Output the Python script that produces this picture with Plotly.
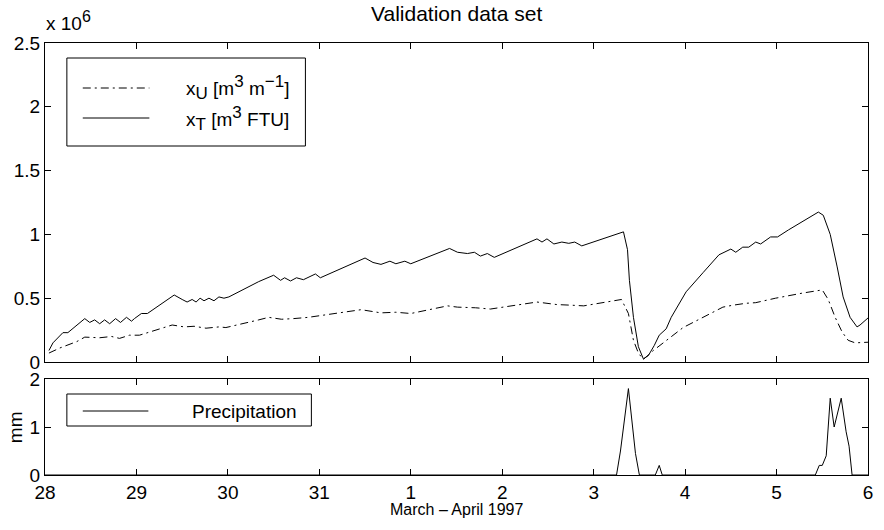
import plotly.graph_objects as go

# ---- data (x = days since 28 March 1997) ----
day_ticks = [0, 1, 2, 3, 4, 5, 6, 7, 8, 9]
day_labels = ["28", "29", "30", "31", "1", "2", "3", "4", "5", "6"]

xT_days = [0.043, 0.087, 0.196, 0.25, 0.435, 0.489, 0.543, 0.598, 0.652, 0.707, 0.772, 0.826,
           0.891, 0.946, 0.978, 1.054, 1.12, 1.413, 1.5, 1.554, 1.609, 1.652, 1.696, 1.739,
           1.793, 1.848, 1.902, 1.957, 2.011, 2.337, 2.5, 2.576, 2.62, 2.685, 2.75, 2.826,
           2.957, 3.011, 3.5, 3.587, 3.674, 3.772, 3.837, 3.935, 4.0, 4.424, 4.511, 4.62,
           4.696, 4.761, 4.837, 4.913, 5.38, 5.435, 5.489, 5.565, 5.652, 5.728, 5.793, 5.87,
           6.326, 6.37, 6.391, 6.435, 6.489, 6.543, 6.598, 6.663, 6.717, 6.793, 6.848, 7.011,
           7.196, 7.37, 7.5, 7.554, 7.63, 7.696, 7.772, 7.826, 7.935, 8.011, 8.13, 8.457,
           8.511, 8.587, 8.663, 8.728, 8.804, 8.88, 8.913, 9.0]
xT_1e6 = [0.09, 0.15, 0.23, 0.23, 0.34, 0.31, 0.33, 0.30, 0.33, 0.30, 0.34, 0.31,
          0.35, 0.32, 0.34, 0.38, 0.38, 0.525, 0.49, 0.47, 0.49, 0.47, 0.50, 0.48,
          0.50, 0.48, 0.51, 0.50, 0.51, 0.63, 0.68, 0.64, 0.66, 0.635, 0.66, 0.645,
          0.69, 0.66, 0.815, 0.78, 0.765, 0.79, 0.77, 0.79, 0.77, 0.89, 0.86, 0.85,
          0.86, 0.83, 0.85, 0.82, 0.965, 0.94, 0.965, 0.925, 0.94, 0.93, 0.94, 0.91,
          1.02, 0.88, 0.64, 0.35, 0.12, 0.025, 0.05, 0.13, 0.21, 0.26, 0.35, 0.55,
          0.70, 0.84, 0.885, 0.86, 0.90, 0.90, 0.94, 0.925, 0.98, 0.98, 1.035, 1.175,
          1.15, 1.0, 0.745, 0.51, 0.35, 0.275, 0.29, 0.345]

xU_days = [0.043, 0.163, 0.348, 0.435, 0.598, 0.728, 0.815, 0.924, 1.033, 1.391, 1.522, 1.63,
           1.761, 1.902, 1.978, 2.174, 2.337, 2.446, 2.587, 2.717, 2.88, 3.457, 3.674, 3.837,
           4.0, 4.402, 4.511, 4.707, 4.87, 5.38, 5.598, 5.761, 5.891, 6.304, 6.38, 6.435,
           6.489, 6.543, 6.652, 6.761, 6.978, 7.196, 7.413, 7.522, 7.663, 7.772, 7.989, 8.283,
           8.5, 8.565, 8.641, 8.717, 8.783, 8.859, 9.0]
xU_1e6 = [0.07, 0.11, 0.16, 0.195, 0.19, 0.20, 0.185, 0.21, 0.21, 0.29, 0.275, 0.28,
          0.265, 0.275, 0.27, 0.30, 0.33, 0.35, 0.335, 0.34, 0.35, 0.41, 0.385, 0.39,
          0.38, 0.44, 0.43, 0.425, 0.415, 0.47, 0.45, 0.445, 0.44, 0.49, 0.38, 0.17,
          0.07, 0.02, 0.09, 0.15, 0.27, 0.35, 0.43, 0.445, 0.46, 0.465, 0.50, 0.54,
          0.565, 0.49, 0.35, 0.235, 0.17, 0.15, 0.155]

rain_days = [0.0, 6.25, 6.293, 6.38, 6.457, 6.5, 6.674, 6.717, 6.75, 8.424, 8.467, 8.5,
             8.543, 8.587, 8.63, 8.707, 8.761, 8.793, 8.826, 9.0]
rain_mm = [0, 0, 0.5, 1.8, 0.45, 0, 0, 0.2, 0, 0, 0.2, 0.2,
           0.4, 1.6, 1.0, 1.6, 0.9, 0.6, 0, 0]

top_yticks = [0, 0.5, 1, 1.5, 2, 2.5]
top_ylabels = ["0", "0.5", "1", "1.5", "2", "2.5"]
bot_yticks = [0, 1, 2]

# ---- styling ----
FONT = "Liberation Sans, Arial, Helvetica, sans-serif"
W, H = 884, 530
ML, MR, MT, MB = 45, 11, 43, 55
PW, PH = W - ML - MR, H - MT - MB
DASHDOT = "8px,4px,2px,4px"


def px(x):
    return (x - ML) / PW


def py(y):
    return (H - MB - y) / PH


def big(s, size=17):
    return '<span style="font-size:%dpx">%s</span>' % (size, s)


fig = go.Figure()
fig.add_trace(go.Scatter(x=xU_days, y=xU_1e6, mode="lines", xaxis="x", yaxis="y",
                         line=dict(color="black", width=1, dash=DASHDOT), showlegend=False))
fig.add_trace(go.Scatter(x=xT_days, y=xT_1e6, mode="lines", xaxis="x", yaxis="y",
                         line=dict(color="black", width=1), showlegend=False))
fig.add_trace(go.Scatter(x=rain_days, y=rain_mm, mode="lines", xaxis="x2", yaxis="y2",
                         line=dict(color="black", width=1), showlegend=False))

axis_common = dict(showline=True, linecolor="black", linewidth=1, mirror="ticks",
                   ticks="inside", ticklen=6, tickwidth=1, tickcolor="black",
                   showgrid=False, zeroline=False,
                   tickfont=dict(family=FONT, size=19, color="black"))

top_dom = [py(362), 1]
bot_dom = [0, py(379)]

fig.update_layout(
    width=W, height=H,
    margin=dict(l=ML, r=MR, t=MT, b=MB),
    paper_bgcolor="white", plot_bgcolor="white",
    font=dict(family=FONT, size=19, color="black"),
    xaxis=dict(axis_common, domain=[0, 1], range=[0, 9], tickvals=day_ticks,
               showticklabels=False, anchor="y"),
    yaxis=dict(axis_common, domain=top_dom, range=[0, 2.5], tickvals=top_yticks,
               ticktext=top_ylabels, anchor="x"),
    xaxis2=dict(axis_common, domain=[0, 1], range=[0, 9], tickvals=day_ticks,
                ticktext=day_labels, anchor="y2"),
    yaxis2=dict(axis_common, domain=bot_dom, range=[0, 2], tickvals=bot_yticks,
                anchor="x2"),
)

shapes = []
annos = []

# title & axis labels
annos.append(dict(text="Validation data set", x=px(459), y=py(13), xref="paper", yref="paper",
                  xanchor="center", yanchor="middle", showarrow=False,
                  font=dict(family=FONT, size=21, color="black")))
annos.append(dict(text="x 10<sup>" + big("6", 16) + "</sup>", x=px(44), y=py(36),
                  xref="paper", yref="paper",
                  xanchor="left", yanchor="bottom", showarrow=False,
                  font=dict(family=FONT, size=19, color="black")))
annos.append(dict(text="March \u2013 April 1997", x=px(459), y=py(509), xref="paper", yref="paper",
                  xanchor="center", yanchor="middle", showarrow=False,
                  font=dict(family=FONT, size=16, color="black")))
annos.append(dict(text="mm", x=px(15), y=py(427), xref="paper", yref="paper",
                  xanchor="center", yanchor="middle", showarrow=False, textangle=-90,
                  font=dict(family=FONT, size=19, color="black")))

# legend 1 (top)
shapes.append(dict(type="rect", xref="paper", yref="paper", x0=px(67), x1=px(307),
                   y0=py(146), y1=py(58), line=dict(color="black", width=1),
                   fillcolor="white", layer="above"))
shapes.append(dict(type="line", xref="paper", yref="paper", x0=px(83), x1=px(150),
                   y0=py(88), y1=py(88), line=dict(color="black", width=1, dash=DASHDOT),
                   layer="above"))
shapes.append(dict(type="line", xref="paper", yref="paper", x0=px(83), x1=px(150),
                   y0=py(118), y1=py(118), line=dict(color="black", width=1), layer="above"))
annos.append(dict(text="x<sub>" + big("U") + "</sub> [m<sup>" + big("3") + "</sup> m<sup>"
                  + big("\u22121") + "</sup>]", x=px(185), y=py(88),
                  xref="paper", yref="paper", xanchor="left", yanchor="middle", showarrow=False,
                  font=dict(family=FONT, size=19, color="black")))
annos.append(dict(text="x<sub>" + big("T") + "</sub> [m<sup>" + big("3") + "</sup> FTU]",
                  x=px(185), y=py(118),
                  xref="paper", yref="paper", xanchor="left", yanchor="middle", showarrow=False,
                  font=dict(family=FONT, size=19, color="black")))

# legend 2 (bottom)
shapes.append(dict(type="rect", xref="paper", yref="paper", x0=px(67), x1=px(313),
                   y0=py(426), y1=py(394), line=dict(color="black", width=1),
                   fillcolor="white", layer="above"))
shapes.append(dict(type="line", xref="paper", yref="paper", x0=px(83), x1=px(149),
                   y0=py(411), y1=py(411), line=dict(color="black", width=1), layer="above"))
annos.append(dict(text="Precipitation", x=px(191), y=py(411), xref="paper", yref="paper",
                  xanchor="left", yanchor="middle", showarrow=False,
                  font=dict(family=FONT, size=19, color="black")))

fig.update_layout(shapes=shapes, annotations=annos)
fig.write_html("out.html")
